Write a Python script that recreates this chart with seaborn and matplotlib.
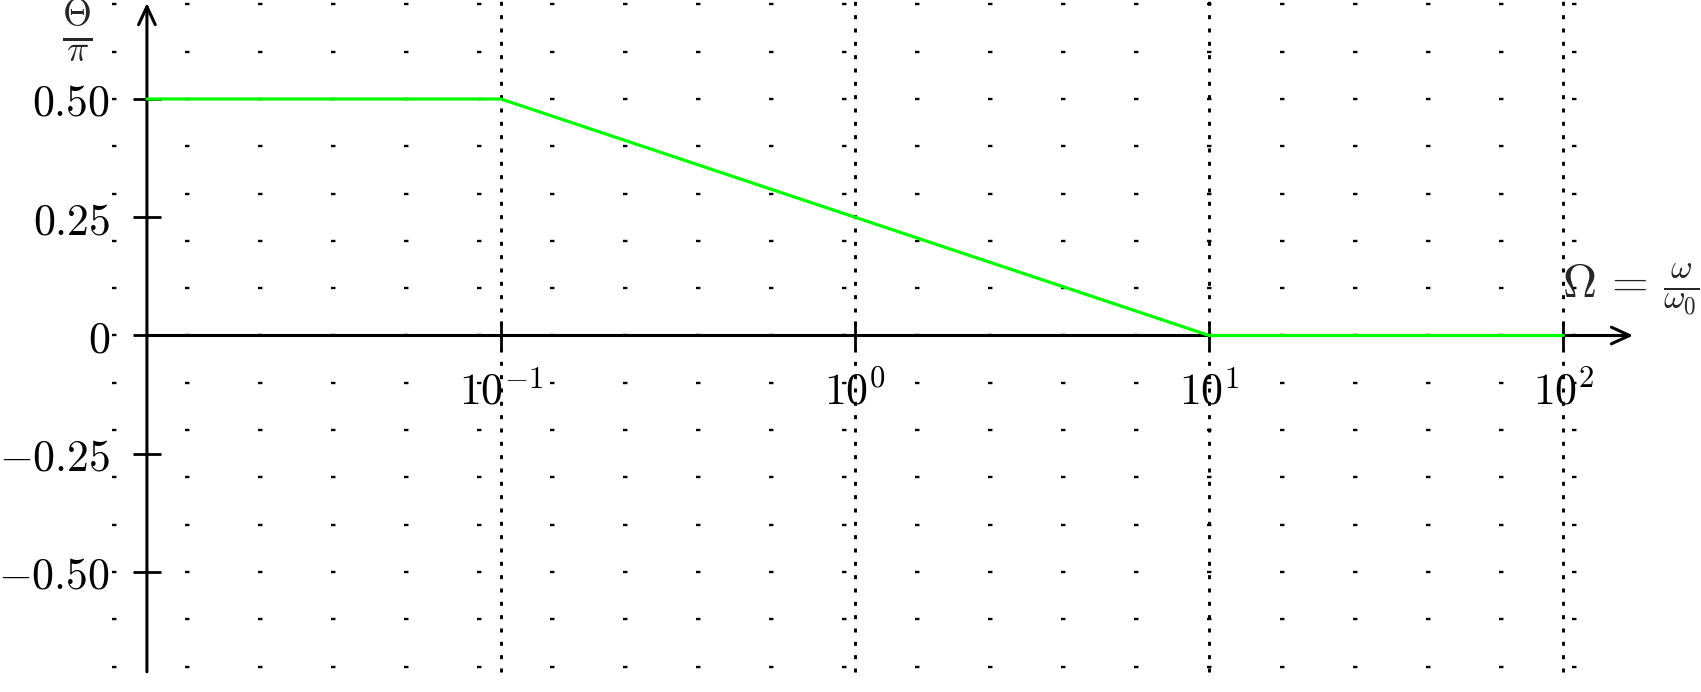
import numpy as np
import seaborn as sns
import matplotlib.pyplot as plt
from matplotlib.ticker import NullLocator

sns.set_theme(style="white")
plt.rcParams["mathtext.fontset"] = "cm"
plt.rcParams["lines.scale_dashes"] = False

# Diagrama de Bode assintótico da fase
omega = [0.01, 0.1, 10, 100]
theta = [0.5, 0.5, 0.0, 0.0]

x_ticks = [0.1, 1, 10, 100]
x_labels = ["$10^{-1}$", "$10^{0}$", "$10^{1}$", "$10^{2}$"]
y_ticks = [-0.5, -0.25, 0, 0.25, 0.5]
y_labels = ["$-0.50$", "$-0.25$", "$0$", "$0.25$", "$0.50$"]

fig = plt.figure(figsize=(17.01, 6.92), dpi=100)
ax = fig.add_axes([0, 0, 1, 1])

# grade pontilhada
for y in np.arange(-7, 8) / 10:
    ax.plot([10**-2.0993, 10**2.0387], [y, y], color="black", lw=1.7,
            ls=(0, (3.2, 49.36)), zorder=1)
ax.vlines(x_ticks, -0.711, 0.709, color="black", lw=2.1,
          linestyles=[(0, (2.9, 6.7))], zorder=1)

sns.lineplot(x=omega, y=theta, ax=ax, color="#00ff00", lw=2.3, zorder=3)

ax.set_xscale("log")
ax.set_xlim(10**-2.4149, 10**2.3887)
ax.set_ylim(-0.7537, 0.7093)
ax.xaxis.set_minor_locator(NullLocator())

# eixos com setas
arrow = dict(arrowstyle="->,head_length=0.65,head_width=0.3", lw=2.2,
             color="black", shrinkA=0, shrinkB=0, mutation_scale=20)
ax.annotate("", xy=(0.01, 0.703), xytext=(0.01, -0.711), arrowprops=arrow, zorder=2)
ax.annotate("", xy=(10**2.197, 0), xytext=(0.01, 0), arrowprops=arrow, zorder=2)

for s in ax.spines.values():
    s.set_visible(False)
ax.spines["left"].set_position(("data", 0.01))
ax.spines["bottom"].set_position(("data", 0))

ax.set_xticks(x_ticks, x_labels)
ax.set_yticks(y_ticks, y_labels)
ax.tick_params(axis="both", direction="inout", length=20, width=2,
               color="black", labelcolor="black", labelsize=31.5,
               bottom=True, left=True)
ax.tick_params(axis="x", pad=15)
ax.tick_params(axis="y", pad=16.5)

ax.text(0.0453, 0.955, r"$\frac{\Theta}{\pi}$", transform=ax.transAxes,
        ha="center", va="center", fontsize=38)
ax.text(0.9588, 0.5824, r"$\Omega\,=\,\frac{\omega}{\omega_0}$", transform=ax.transAxes,
        ha="center", va="center", fontsize=34)

ax.set_xlabel("")
ax.set_ylabel("")
fig.savefig("out.png", dpi=100)
